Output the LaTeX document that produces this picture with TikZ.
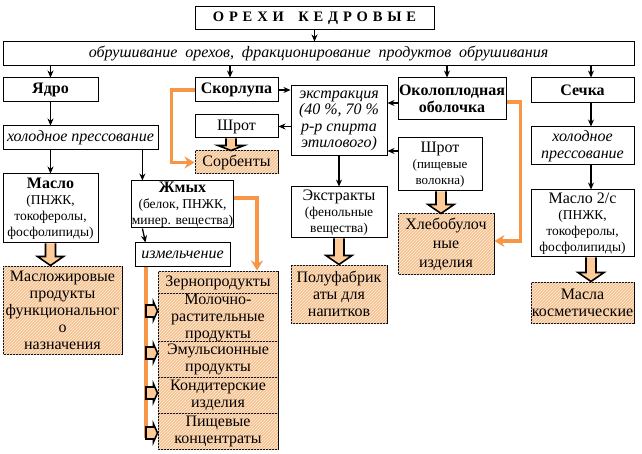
\documentclass[tikz,border=0pt]{standalone}
\usepackage{fontspec}
\setmainfont{Liberation Serif}
\usetikzlibrary{arrows.meta,patterns,calc}
\definecolor{orng}{RGB}{247,150,70}
\definecolor{peach}{RGB}{255,204,153}
\definecolor{peachd}{RGB}{246,194,144}
\newcommand\fbig{\fontsize{16}{17}\selectfont}
\newcommand\fsub{\fontsize{13.5}{16}\selectfont}
\newcommand\fsm{\fontsize{13}{16}\selectfont}
\newcommand\fit{\fontsize{16}{16.5}\selectfont\itshape}
% fat block arrow: #1 source, #2 target, #3 xshift, #4 head length
\newcommand\fatarr[4]{%
  \draw[fat] let \p1=([xshift=#3]#1.south), \p2=(#2.north) in
   (\x1-5pt,\y1) -- (\x1-5pt,\y2+#4) -- (\x1-13pt,\y2+#4) -- (\x1,\y2)
   -- (\x1+13pt,\y2+#4) -- (\x1+5pt,\y2+#4) -- (\x1+5pt,\y1);}
% small side stub: #1 target node, #2 yshift
\newcommand\stub[2]{%
  \draw[fat] let \p1=([yshift=#2]#1.west), \p2=(vtop) in
   (\x2,\y1+6pt) -- (\x1-4pt,\y1+6pt) -- (\x1-4pt,\y1+9pt) -- (\x1,\y1)
   -- (\x1-4pt,\y1-9pt) -- (\x1-4pt,\y1-6pt) -- (\x2,\y1-6pt) -- cycle;}
\begin{document}
\begin{tikzpicture}[x=1pt,y=-1pt,
  box/.style={draw, line width=1pt, inner sep=0pt, align=center, font=\fbig},
  prod/.style={box, fill=peachd, postaction={pattern=north east lines, pattern color=white!70!peach}},
  arr/.style={-{Stealth[length=7pt,width=6pt]}, line width=1.3pt},
  orl/.style={draw=orng, line width=3.5pt},
  oarr/.style={orl, -{Stealth[length=10pt,width=12pt]}},
  fat/.style={draw, line width=1.6pt, fill=peach, line join=miter}]
\useasboundingbox (0,0) rectangle (642,454);
\fill[white] (0,0) rectangle (642,454);

% nodes
\node[box, minimum width=239pt, minimum height=23pt] (title) at (314.5,18.5)
  {\fontsize{14.5}{16}\selectfont\bfseries О\,\,Р\,\,Е\,\,Х\,\,И\quad К\,\,Е\,\,Д\,\,Р\,\,О\,\,В\,\,Ы\,\,Е};
\node[box, minimum width=631pt, minimum height=24pt] (obr) at (318.5,54)
  {\fit обрушивание\ \ орехов,\ \ фракционирование\ \ продуктов\ \ обрушивания};
\node[box, minimum width=95pt, minimum height=24pt] (yadro) at (50.5,90) {\bfseries Ядро};
\node[box, minimum width=83pt, minimum height=24pt] (skor) at (236.5,90) {\bfseries Скорлупа};
\node[box, minimum width=96pt, minimum height=70pt, font=\fit] (extr) at (339,121)
  {экстракция\\(40 \%, 70 \%\\р-р спирта\\этилового)};
\node[box, minimum width=108pt, minimum height=42pt, font=\fbig\bfseries] (okol) at (452,99)
  {Околоплодная\\оболочка};
\node[box, minimum width=103pt, minimum height=25pt] (sech) at (582.5,90.5) {\bfseries Сечка};
\node[box, minimum width=83pt, minimum height=23pt] (shrot1) at (236.5,126.5) {Шрот};
\node[prod, minimum width=83pt, minimum height=23pt] (sorb) at (236.5,162.5) {Сорбенты};
\node[box, minimum width=155pt, minimum height=24pt] (hp1) at (80.5,138) {\fit холодное прессование};
\node[box, minimum width=95pt, minimum height=69pt, font=\fsub] (maslo) at (50.5,208.5)
  {\fbig\bfseries Масло\\(ПНЖК,\\токоферолы,\\фосфолипиды)};
\node[box, minimum width=95pt, minimum height=47pt, font=\fsub] (zhmyh) at (182.5,204.5)
  {\fbig\bfseries Жмых\\(белок, ПНЖК,\\минер. вещества)};
\node[box, minimum width=95pt, minimum height=23pt] (izm) at (182.5,254.5) {\fit измельчение};
\node[prod, minimum width=119pt, minimum height=88pt] (mzh) at (62.5,310)
  {Масложировые\\продукты\\функциональног\\о\\назначения};
\node[box, minimum width=96pt, minimum height=51pt, font=\fsub] (ekstr) at (339,212.5)
  {\fbig Экстракты\\(фенольные\\вещества)};
\node[prod, minimum width=96pt, minimum height=58pt] (polu) at (339,294)
  {Полуфабрик\\аты для\\напитков};
\node[box, minimum width=84pt, minimum height=53pt, font=\fsm] (shrot2) at (440,164.5)
  {\fbig Шрот\\(пищевые\\волокна)};
\node[prod, minimum width=96pt, minimum height=60pt, font=\fontsize{16}{19}\selectfont] (hleb) at (446,244)
  {Хлебобулоч\\ные\\изделия};
\node[box, minimum width=103pt, minimum height=38pt, font=\fit] (hp2) at (582.5,146)
  {холодное\\прессование};
\node[box, minimum width=103pt, minimum height=67pt, font=\fsub] (maslo2) at (582.5,223.5)
  {\fbig Масло 2/с\\(ПНЖК,\\токоферолы,\\фосфолипиды)};
\node[prod, minimum width=103pt, minimum height=41pt] (kosm) at (582.5,302.5)
  {Масла\\косметические};
\node[prod, minimum width=120pt, minimum height=23pt] (zern) at (218,282.5) {Зернопродукты};
\node[prod, minimum width=120pt, minimum height=47pt] (moloch) at (218,317.5)
  {Молочно-\\растительные\\продукты};
\node[prod, minimum width=120pt, minimum height=36pt] (emul) at (218,359) {Эмульсионные\\продукты};
\node[prod, minimum width=120pt, minimum height=36pt] (kond) at (218,395) {Кондитерские\\изделия};
\node[prod, minimum width=120pt, minimum height=36pt] (pish) at (218,431) {Пищевые\\концентраты};

% thin black arrows
\draw[arr] (title.south) -- (title.south |- obr.north);
\draw[arr] (yadro.north |- obr.south) -- (yadro.north);
\draw[arr] ([xshift=-6.5pt]skor.north |- obr.south) -- ([xshift=-6.5pt]skor.north);
\draw[arr] ([xshift=-5pt]okol.north |- obr.south) -- ([xshift=-5pt]okol.north);
\draw[arr] ([xshift=8.5pt]sech.north |- obr.south) -- ([xshift=8.5pt]sech.north);
\draw[arr] (yadro.south) -- (yadro.south |- hp1.north);
\draw[arr] (maslo.north |- hp1.south) -- (maslo.north);
\draw[arr] ([xshift=11pt]zhmyh.north west |- hp1.south) -- ([xshift=11pt]zhmyh.north west);
\draw[arr] ([xshift=11pt]zhmyh.south west) -- ([xshift=11pt]izm.north west);
\draw[arr] (skor.east) -- (skor.east -| extr.west);
\draw[arr] ([yshift=-4pt]okol.west) -- ([yshift=-4pt]okol.west -| extr.east);
\draw[arr] (extr.west |- shrot1.east) -- (shrot1.east);
\draw[arr] ([yshift=13.5pt]shrot2.west) -- ([yshift=13.5pt]shrot2.west -| extr.east);
\draw[arr] (extr.south) -- (ekstr.north);
\draw[arr] ([xshift=8.5pt]sech.south) -- ([xshift=8.5pt]hp2.north);
\draw[arr] ([xshift=8.5pt]hp2.south) -- ([xshift=8.5pt]maslo2.north);

% orange connectors
\draw[oarr] (skor.west) -- ++(-23,0) |- (sorb.west);
\draw[oarr] ([yshift=6.5pt]zhmyh.east) -| ([xshift=39pt]zern.north);
\draw[oarr] ([yshift=-3pt]okol.east) -- ++(14,0) |- ([yshift=3pt]hleb.east);
\coordinate (vtop) at ([xshift=-36.5pt]izm.south);
\coordinate (vend) at (146,438);
\draw[orl] (vtop) -- (vend);

% fat block arrows
\fatarr{shrot1}{sorb}{-5.5pt}{5pt}
\fatarr{maslo}{mzh}{0pt}{9pt}
\fatarr{ekstr}{polu}{0pt}{9pt}
\fatarr{shrot2}{hleb}{1pt}{9pt}
\fatarr{maslo2}{kosm}{8.5pt}{9pt}

% side stubs
\stub{moloch}{6.5pt}
\stub{emul}{6pt}
\stub{kond}{2pt}
\stub{pish}{-2pt}
\end{tikzpicture}
\end{document}
